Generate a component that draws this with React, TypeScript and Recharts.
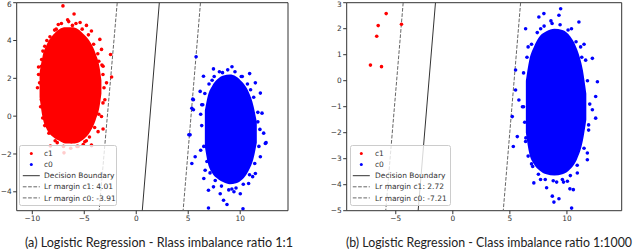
import { Area, ComposedChart, Legend, ReferenceArea, ReferenceLine, Scatter, XAxis, YAxis } from 'recharts';

// panel (a): class imbalance 1:1
const aXDomain = [-11.5, 14.6];
const aYDomain = [-5, 6];
const aXTicks = [-10, -5, 0, 5, 10];
const aYTicks = [-4, -2, 0, 2, 4, 6];

// dense cores of the clouds, as y ranges per x
const aRedCore = [
  { x: -9.3, range: [1.0, 2.3] },
  { x: -9.0, range: [-0.1, 3.2] },
  { x: -8.6, range: [-0.7, 3.8] },
  { x: -8.0, range: [-1.1, 4.3] },
  { x: -7.4, range: [-1.3, 4.6] },
  { x: -6.8, range: [-1.45, 4.7] },
  { x: -6.2, range: [-1.45, 4.7] },
  { x: -5.6, range: [-1.4, 4.6] },
  { x: -5.0, range: [-1.2, 4.3] },
  { x: -4.4, range: [-0.8, 3.9] },
  { x: -3.9, range: [-0.2, 3.3] },
  { x: -3.5, range: [0.6, 2.5] },
  { x: -3.35, range: [1.2, 1.9] }
];

const aRedPoints = [
  { x: -7.05, y: 5.83 }, { x: -5.98, y: 5.4 }, { x: -6.14, y: 4.8 }, { x: -4.79, y: 4.8 },
  { x: -4.31, y: 4.5 }, { x: -7.85, y: 4.55 }, { x: -8.01, y: 4.06 }, { x: -8.98, y: 3.44 },
  { x: -9.13, y: 2.64 }, { x: -9.3, y: 1.76 }, { x: -9.13, y: 0.87 }, { x: -8.81, y: 0.16 },
  { x: -8.33, y: -0.37 }, { x: -7.36, y: -0.9 }, { x: -7.05, y: -1.26 }, { x: -6.24, y: -1.35 },
  { x: -4.95, y: -1.35 }, { x: -4.31, y: -1.53 }, { x: -3.67, y: -0.82 }, { x: -3.34, y: -0.02 },
  { x: -3.02, y: 0.87 }, { x: -2.86, y: 1.76 }, { x: -3.19, y: 2.64 }, { x: -3.34, y: 3.53 },
  { x: -3.5, y: 4.06 }, { x: -2.47, y: 3.26 }, { x: -2.37, y: 2.07 }, { x: -8.26, y: -1.58 },
  { x: -6.95, y: -1.94 }, { x: -4.3, y: -1.56 }, { x: -3.19, y: -0.68 }, { x: -6.6, y: 5.1 },
  { x: -5.4, y: 4.95 }, { x: -7.5, y: 4.85 }, { x: -9.4, y: 2.2 }, { x: -9.0, y: -0.1 },
  { x: -3.7, y: 1.3 }, { x: -3.6, y: 2.9 }, { x: -5.6, y: -1.6 }, { x: -7.6, y: -1.4 },
  { x: -9.5, y: 1.5 }, { x: -9.4, y: 2.6 }, { x: -9.2, y: 0.5 }, { x: -9.1, y: 3.0 },
  { x: -8.8, y: -0.5 }, { x: -8.8, y: 3.7 }, { x: -8.3, y: 4.2 }, { x: -8.4, y: -0.9 },
  { x: -7.8, y: -1.3 }, { x: -7.7, y: 4.6 }, { x: -7.2, y: 4.9 }, { x: -7.0, y: -1.6 },
  { x: -6.5, y: 5.0 }, { x: -6.3, y: -1.7 }, { x: -5.8, y: 4.9 }, { x: -5.7, y: -1.6 },
  { x: -5.2, y: 4.6 }, { x: -5.1, y: -1.5 }, { x: -4.6, y: 4.3 }, { x: -4.5, y: -1.1 },
  { x: -4.1, y: 3.8 }, { x: -4.0, y: -0.6 }, { x: -3.7, y: 3.3 }, { x: -3.6, y: 0.1 },
  { x: -3.3, y: 2.7 }, { x: -3.2, y: 0.7 }, { x: -3.1, y: 1.5 }, { x: -3.2, y: 2.2 },
  { x: -8.6, y: 4.0 }, { x: -4.8, y: -1.3 }
];

const aBlueCore = [
  { x: 6.6, range: [-1.6, 0.3] },
  { x: 6.9, range: [-2.5, 1.1] },
  { x: 7.3, range: [-3.0, 1.6] },
  { x: 7.8, range: [-3.3, 1.95] },
  { x: 8.4, range: [-3.5, 2.15] },
  { x: 9.0, range: [-3.6, 2.2] },
  { x: 9.6, range: [-3.55, 2.1] },
  { x: 10.2, range: [-3.35, 1.8] },
  { x: 10.8, range: [-2.9, 1.3] },
  { x: 11.3, range: [-2.2, 0.5] },
  { x: 11.6, range: [-1.4, -0.3] }
];

const aBluePoints = [
  { x: 7.43, y: 2.5 }, { x: 9.21, y: 2.61 }, { x: 10.91, y: 2.25 }, { x: 6.47, y: 2.11 },
  { x: 6.15, y: 1.31 }, { x: 5.5, y: 0.87 }, { x: 5.5, y: 0.34 }, { x: 5.18, y: -0.99 },
  { x: 5.67, y: -2.15 }, { x: 5.35, y: -2.5 }, { x: 6.63, y: -2.86 }, { x: 6.95, y: -3.92 },
  { x: 7.43, y: -3.74 }, { x: 8.08, y: -4.1 }, { x: 8.4, y: -4.45 }, { x: 8.73, y: -4.67 },
  { x: 6.95, y: -4.86 }, { x: 10.27, y: -4.9 }, { x: 10.01, y: -4.1 }, { x: 10.81, y: -3.56 },
  { x: 11.46, y: -3.03 }, { x: 11.94, y: -2.15 }, { x: 12.42, y: -1.44 }, { x: 12.26, y: -0.9 },
  { x: 12.1, y: 0.16 }, { x: 11.94, y: 1.22 }, { x: 11.46, y: 1.76 }, { x: 5.76, y: 3.14 },
  { x: 5.35, y: 0.42 }, { x: 5.44, y: 0.9 }, { x: 5.06, y: -0.98 }, { x: 12.49, y: -1.4 },
  { x: 8.3, y: 2.3 }, { x: 10.2, y: 2.1 }, { x: 6.5, y: -3.3 }, { x: 9.4, y: -4.0 },
  { x: 6.2, y: -1.8 }, { x: 11.7, y: -0.3 }, { x: 6.3, y: 0.6 }, { x: 11.2, y: -3.2 },
  { x: 6.3, y: -0.5 }, { x: 6.4, y: 0.6 }, { x: 6.5, y: -1.6 }, { x: 6.6, y: 1.2 },
  { x: 6.8, y: -2.4 }, { x: 7.0, y: 1.7 }, { x: 7.1, y: -3.0 }, { x: 7.5, y: 2.1 },
  { x: 7.6, y: -3.4 }, { x: 8.0, y: 2.35 }, { x: 8.2, y: -3.7 }, { x: 8.8, y: 2.45 },
  { x: 8.9, y: -3.9 }, { x: 9.5, y: 2.35 }, { x: 9.6, y: -3.8 }, { x: 10.1, y: 2.1 },
  { x: 10.3, y: -3.6 }, { x: 10.7, y: 1.7 }, { x: 10.9, y: -3.1 }, { x: 11.3, y: 1.0 },
  { x: 11.4, y: -2.5 }, { x: 11.7, y: 0.2 }, { x: 11.8, y: -1.6 }, { x: 11.9, y: -0.7 },
  { x: 6.2, y: 0.1 }, { x: 9.2, y: -3.85 }, { x: 7.3, y: 1.9 }, { x: 11.0, y: 1.4 }
];

const aBoundary = [{ x: 2.22, y: 6 }, { x: 0.58, y: -5 }];
const aMarginC1 = [{ x: -1.83, y: 6 }, { x: -3.57, y: -5 }];
const aMarginC0 = [{ x: 6.18, y: 6 }, { x: 4.51, y: -5 }];
const aLabels = ['c1', 'c0', 'Decision Boundary', 'Lr margin c1: 4.01', 'Lr margin c0: -3.91'];

// panel (b): class imbalance 1:1000
const bXDomain = [-9.3, 14.8];
const bYDomain = [-5, 3];
const bXTicks = [-5, 0, 5, 10];
const bYTicks = [-5, -4, -3, -2, -1, 0, 1, 2, 3];

const bRedPoints = [
  { x: -5.84, y: 2.58 }, { x: -6.54, y: 2.12 }, { x: -4.5, y: 2.17 },
  { x: -6.67, y: 1.71 }, { x: -7.22, y: 0.6 }, { x: -6.25, y: 0.54 }
];

const bBlueCore = [
  { x: 6.4, range: [-2.0, 0.0] },
  { x: 6.7, range: [-2.8, 0.8] },
  { x: 7.1, range: [-3.2, 1.3] },
  { x: 7.6, range: [-3.45, 1.7] },
  { x: 8.2, range: [-3.6, 1.9] },
  { x: 8.9, range: [-3.65, 2.0] },
  { x: 9.6, range: [-3.6, 1.95] },
  { x: 10.3, range: [-3.4, 1.7] },
  { x: 10.9, range: [-3.0, 1.2] },
  { x: 11.4, range: [-2.3, 0.4] },
  { x: 11.7, range: [-1.5, -0.5] }
];

const bBluePoints = [
  { x: 9.45, y: 2.77 }, { x: 7.98, y: 2.58 }, { x: 9.3, y: 2.52 }, { x: 11.05, y: 2.26 },
  { x: 7.54, y: 2.45 }, { x: 6.38, y: 2.0 }, { x: 12.23, y: 0.86 }, { x: 5.5, y: 0.41 },
  { x: 12.67, y: -0.04 }, { x: 5.5, y: -0.36 }, { x: 5.79, y: -0.74 }, { x: 12.52, y: -0.61 },
  { x: 12.23, y: -1.12 }, { x: 12.52, y: -1.44 }, { x: 5.21, y: -1.38 }, { x: 5.65, y: -2.15 },
  { x: 5.3, y: -2.53 }, { x: 6.38, y: -2.34 }, { x: 11.79, y: -2.78 }, { x: 11.79, y: -3.04 },
  { x: 10.91, y: -3.55 }, { x: 7.1, y: -3.93 }, { x: 7.69, y: -3.8 }, { x: 8.22, y: -4.12 },
  { x: 8.72, y: -4.44 }, { x: 8.86, y: -4.67 }, { x: 9.3, y: -4.54 }, { x: 10.04, y: -3.87 },
  { x: 10.26, y: -4.16 }, { x: 10.56, y: -4.19 }, { x: 10.41, y: -4.9 }, { x: 11.64, y: 0.79 },
  { x: 6.6, y: 1.3 }, { x: 10.4, y: 2.0 }, { x: 6.2, y: -1.0 }, { x: 11.9, y: -1.9 },
  { x: 6.9, y: -3.2 }, { x: 11.5, y: 1.4 }, { x: 8.6, y: 2.3 }, { x: 9.7, y: -3.9 },
  { x: 6.1, y: -1.0 }, { x: 6.2, y: 0.3 }, { x: 6.4, y: -2.2 }, { x: 6.5, y: 0.9 },
  { x: 6.6, y: -2.9 }, { x: 6.9, y: 1.4 }, { x: 7.0, y: -3.3 }, { x: 7.4, y: 1.85 },
  { x: 7.5, y: -3.6 }, { x: 8.0, y: 2.1 }, { x: 8.1, y: -3.8 }, { x: 8.7, y: 2.2 },
  { x: 8.8, y: -3.85 }, { x: 9.4, y: 2.15 }, { x: 9.6, y: -3.8 }, { x: 10.1, y: 1.95 },
  { x: 10.3, y: -3.65 }, { x: 10.8, y: 1.5 }, { x: 10.9, y: -3.25 }, { x: 11.3, y: 0.9 },
  { x: 11.5, y: -2.6 }, { x: 11.8, y: 0.0 }, { x: 11.9, y: -1.7 }, { x: 12.0, y: -0.9 },
  { x: 6.3, y: -1.6 }, { x: 9.1, y: -3.9 }, { x: 7.7, y: 2.0 }, { x: 11.2, y: 1.3 }
];

const bBoundary = [{ x: -1.52, y: 3 }, { x: -3.04, y: -5 }];
const bMarginC1 = [{ x: -4.35, y: 3 }, { x: -5.88, y: -5 }];
const bMarginC0 = [{ x: 5.94, y: 3 }, { x: 4.42, y: -5 }];
const bLabels = ['c1', 'c0', 'Decision Boundary', 'Lr margin c1: 2.72', 'Lr margin c0: -7.21'];

const captionA = '(a) Logistic Regression - Rlass imbalance ratio 1:1';
const captionB = '(b) Logistic Regression - Class imbalance ratio 1:1000';

const RED = '#ff0000';
const BLUE = '#0000ff';
const INK = '#333333';
const DASH = '#666666';
const tickStyle = { fontSize: 7.4, fill: INK, fontFamily: 'DejaVu Sans' };
const fmt = (v: number) => String(v).replace('-', '\u2212');

const dot = (color: string) => (props: any) => (
  <circle cx={props.cx} cy={props.cy} r={1.8} fill={color} />
);

function LegendBox({ labels, width, markerX, textX }: { labels: string[]; width: number; markerX: number; textX: number }) {
  const rows = [8.5, 19.6, 30.7, 41.8, 52.9];
  return (
    <svg width={width} height={61} style={{ display: 'block', overflow: 'visible' }}>
      <rect x={0.5} y={0.5} width={width - 1} height={60} rx={2} fill="#ffffff" fillOpacity={0.8} stroke="#cccccc" />
      <circle cx={markerX} cy={rows[0]} r={1.5} fill={RED} />
      <circle cx={markerX} cy={rows[1]} r={1.5} fill={BLUE} />
      <line x1={markerX - 8.5} x2={markerX + 8.5} y1={rows[2]} y2={rows[2]} stroke={INK} strokeWidth={1} />
      <line x1={markerX - 8.5} x2={markerX + 8.5} y1={rows[3]} y2={rows[3]} stroke={DASH} strokeWidth={1} strokeDasharray="3.7 1.6" />
      <line x1={markerX - 8.5} x2={markerX + 8.5} y1={rows[4]} y2={rows[4]} stroke={DASH} strokeWidth={1} strokeDasharray="3.7 1.6" />
      {labels.map((label, i) => (
        <text key={label} x={textX} y={rows[i]} dy="0.35em" fontSize={7.5} fontFamily="DejaVu Sans" fill={INK}>
          {label}
        </text>
      ))}
    </svg>
  );
}

interface PanelProps {
  xDomain: number[];
  yDomain: number[];
  xTicks: number[];
  yTicks: number[];
  redCore?: { x: number; range: number[] }[];
  redPoints: { x: number; y: number }[];
  blueCore: { x: number; range: number[] }[];
  bluePoints: { x: number; y: number }[];
  boundary: { x: number; y: number }[];
  marginC1: { x: number; y: number }[];
  marginC0: { x: number; y: number }[];
  labels: string[];
  yAxisWidth: number;
  marginRight: number;
  legend: { left: number; width: number; markerX: number };
}

function Panel(p: PanelProps) {
  return (
    <ComposedChart width={320} height={230} margin={{ top: 2.7, right: p.marginRight, bottom: 3.3, left: 0 }}>
      <XAxis
        dataKey="x"
        type="number"
        domain={p.xDomain}
        ticks={p.xTicks}
        allowDataOverflow
        height={16}
        tickSize={3.5}
        tickMargin={1.5}
        tick={tickStyle}
        tickFormatter={fmt}
        axisLine={false}
        tickLine={{ stroke: INK }}
      />
      <YAxis
        dataKey="y"
        type="number"
        domain={p.yDomain}
        ticks={p.yTicks}
        allowDataOverflow
        width={p.yAxisWidth}
        tickSize={3.5}
        tickMargin={1.5}
        tick={tickStyle}
        tickFormatter={fmt}
        axisLine={false}
        tickLine={{ stroke: INK }}
      />
      {p.redCore ? (
        <Area data={p.redCore} dataKey="range" type="monotone" stroke="none" fill={RED} fillOpacity={1} dot={false} activeDot={false} isAnimationActive={false} />
      ) : null}
      <Area data={p.blueCore} dataKey="range" type="monotone" stroke="none" fill={BLUE} fillOpacity={1} dot={false} activeDot={false} isAnimationActive={false} />
      <Scatter data={p.redPoints} dataKey="y" shape={dot(RED)} isAnimationActive={false} />
      <Scatter data={p.bluePoints} dataKey="y" shape={dot(BLUE)} isAnimationActive={false} />
      <ReferenceLine segment={p.boundary} stroke={INK} strokeWidth={1} ifOverflow="hidden" />
      <ReferenceLine segment={p.marginC1} stroke={DASH} strokeWidth={1} strokeDasharray="3.7 1.6" ifOverflow="hidden" />
      <ReferenceLine segment={p.marginC0} stroke={DASH} strokeWidth={1} strokeDasharray="3.7 1.6" ifOverflow="hidden" />
      <ReferenceArea
        x1={p.xDomain[0]}
        x2={p.xDomain[1]}
        y1={p.yDomain[0]}
        y2={p.yDomain[1]}
        fill="none"
        stroke={INK}
        strokeWidth={1}
        ifOverflow="visible"
      />
      <Legend
        layout="horizontal"
        verticalAlign="middle"
        wrapperStyle={{ position: 'absolute', left: p.legend.left, top: 144.7, width: p.legend.width, height: 61 }}
        content={() => <LegendBox labels={p.labels} width={p.legend.width} markerX={p.legend.markerX} textX={25} />}
      />
    </ComposedChart>
  );
}

function Caption({ text, x, width }: { text: string; x: number; width: number }) {
  return (
    <svg width={640} height={20} style={{ position: 'absolute', left: 0, top: 230 }}>
      <text x={x} y={16.5} fontSize={12.5} fontFamily="Lato" fill="#222222" textLength={width} lengthAdjust="spacingAndGlyphs">
        {text}
      </text>
    </svg>
  );
}

export default function App() {
  return (
    <div style={{ position: 'absolute', left: 0, top: 0, width: 640, height: 249, background: '#ffffff' }}>
      <div style={{ position: 'absolute', left: 0, top: 0 }}>
        <Panel
          xDomain={aXDomain}
          yDomain={aYDomain}
          xTicks={aXTicks}
          yTicks={aYTicks}
          redCore={aRedCore}
          redPoints={aRedPoints}
          blueCore={aBlueCore}
          bluePoints={aBluePoints}
          boundary={aBoundary}
          marginC1={aMarginC1}
          marginC0={aMarginC0}
          labels={aLabels}
          yAxisWidth={16.7}
          marginRight={32}
          legend={{ left: 19, width: 98, markerX: 12.3 }}
        />
      </div>
      <div style={{ position: 'absolute', left: 320, top: 0 }}>
        <Panel
          xDomain={bXDomain}
          yDomain={bYDomain}
          xTicks={bXTicks}
          yTicks={bYTicks}
          redPoints={bRedPoints}
          blueCore={bBlueCore}
          bluePoints={bBluePoints}
          boundary={bBoundary}
          marginC1={bMarginC1}
          marginC0={bMarginC0}
          labels={bLabels}
          yAxisWidth={26.7}
          marginRight={18.3}
          legend={{ left: 30, width: 101, markerX: 11.3 }}
        />
      </div>
      <Caption text={captionA} x={25} width={268} />
      <Caption text={captionB} x={346} width={286} />
    </div>
  );
}
